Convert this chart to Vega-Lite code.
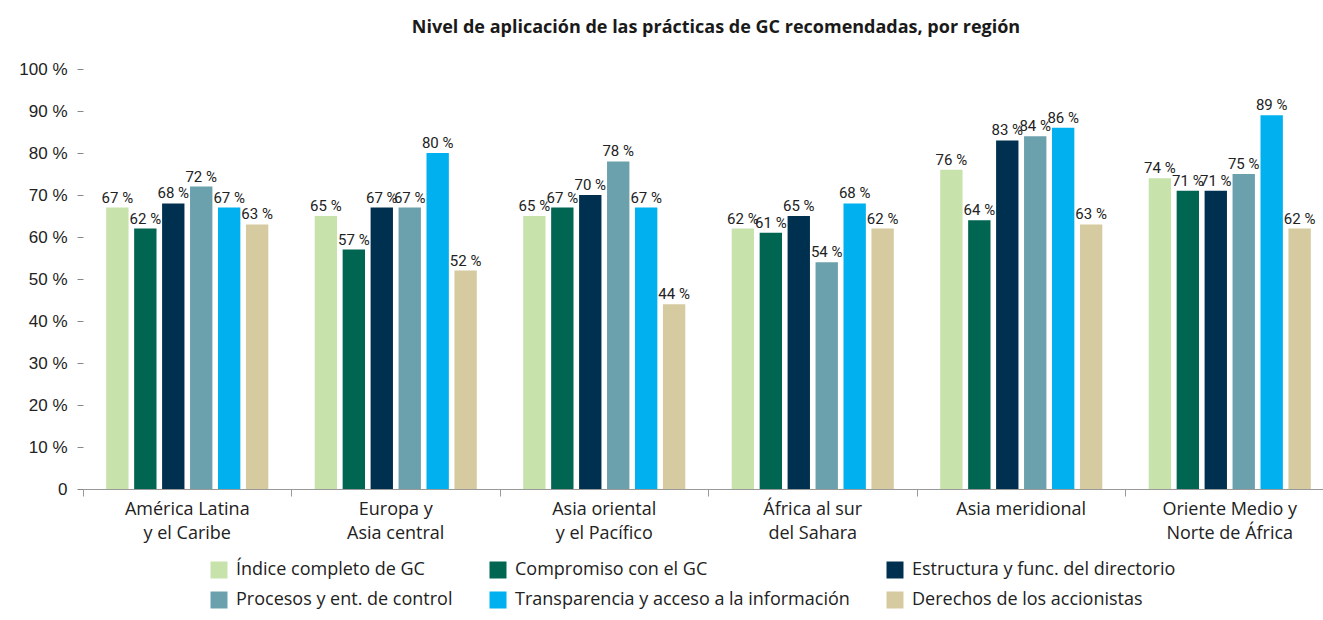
{
  "$schema": "https://vega.github.io/schema/vega-lite/v6.json",
  "width": 1240,
  "height": 420,
  "autosize": {"type": "none"},
  "padding": {"left": 83, "top": 69, "right": 0, "bottom": 131},
  "background": "white",
  "config": {
    "view": {"stroke": null},
    "locale": {
      "number": {"decimal": ",", "thousands": ".", "grouping": [3], "currency": ["", " %"]}
    }
  },
  "title": {
    "text": "Nivel de aplicación de las prácticas de GC recomendadas, por región",
    "font": "Open Sans",
    "fontSize": 18,
    "fontWeight": "bold",
    "color": "#1a1a1a",
    "anchor": "middle",
    "dx": 13,
    "offset": 23
  },
  "data": {
    "values": [
      {"region": "América Latina y el Caribe", "series": "Índice completo de GC", "value": 67},
      {"region": "América Latina y el Caribe", "series": "Compromiso con el GC", "value": 62},
      {"region": "América Latina y el Caribe", "series": "Estructura y func. del directorio", "value": 68},
      {"region": "América Latina y el Caribe", "series": "Procesos y ent. de control", "value": 72},
      {"region": "América Latina y el Caribe", "series": "Transparencia y acceso a la información", "value": 67},
      {"region": "América Latina y el Caribe", "series": "Derechos de los accionistas", "value": 63},
      {"region": "Europa y Asia central", "series": "Índice completo de GC", "value": 65},
      {"region": "Europa y Asia central", "series": "Compromiso con el GC", "value": 57},
      {"region": "Europa y Asia central", "series": "Estructura y func. del directorio", "value": 67},
      {"region": "Europa y Asia central", "series": "Procesos y ent. de control", "value": 67},
      {"region": "Europa y Asia central", "series": "Transparencia y acceso a la información", "value": 80},
      {"region": "Europa y Asia central", "series": "Derechos de los accionistas", "value": 52},
      {"region": "Asia oriental y el Pacífico", "series": "Índice completo de GC", "value": 65},
      {"region": "Asia oriental y el Pacífico", "series": "Compromiso con el GC", "value": 67},
      {"region": "Asia oriental y el Pacífico", "series": "Estructura y func. del directorio", "value": 70},
      {"region": "Asia oriental y el Pacífico", "series": "Procesos y ent. de control", "value": 78},
      {"region": "Asia oriental y el Pacífico", "series": "Transparencia y acceso a la información", "value": 67},
      {"region": "Asia oriental y el Pacífico", "series": "Derechos de los accionistas", "value": 44},
      {"region": "África al sur del Sahara", "series": "Índice completo de GC", "value": 62},
      {"region": "África al sur del Sahara", "series": "Compromiso con el GC", "value": 61},
      {"region": "África al sur del Sahara", "series": "Estructura y func. del directorio", "value": 65},
      {"region": "África al sur del Sahara", "series": "Procesos y ent. de control", "value": 54},
      {"region": "África al sur del Sahara", "series": "Transparencia y acceso a la información", "value": 68},
      {"region": "África al sur del Sahara", "series": "Derechos de los accionistas", "value": 62},
      {"region": "Asia meridional", "series": "Índice completo de GC", "value": 76},
      {"region": "Asia meridional", "series": "Compromiso con el GC", "value": 64},
      {"region": "Asia meridional", "series": "Estructura y func. del directorio", "value": 83},
      {"region": "Asia meridional", "series": "Procesos y ent. de control", "value": 84},
      {"region": "Asia meridional", "series": "Transparencia y acceso a la información", "value": 86},
      {"region": "Asia meridional", "series": "Derechos de los accionistas", "value": 63},
      {"region": "Oriente Medio y Norte de África", "series": "Índice completo de GC", "value": 74},
      {"region": "Oriente Medio y Norte de África", "series": "Compromiso con el GC", "value": 71},
      {"region": "Oriente Medio y Norte de África", "series": "Estructura y func. del directorio", "value": 71},
      {"region": "Oriente Medio y Norte de África", "series": "Procesos y ent. de control", "value": 75},
      {"region": "Oriente Medio y Norte de África", "series": "Transparencia y acceso a la información", "value": 89},
      {"region": "Oriente Medio y Norte de África", "series": "Derechos de los accionistas", "value": 62}
    ]
  },
  "encoding": {
    "x": {
      "field": "region",
      "type": "nominal",
      "sort": null,
      "title": null,
      "scale": {"paddingInner": 0, "paddingOuter": 0, "range": [0, 1251]},
      "axis": {
        "bandPosition": 0,
        "labelAngle": 0,
        "labelFont": "Open Sans",
        "labelFontSize": 18,
        "labelColor": "#222222",
        "labelLineHeight": 24,
        "labelPadding": 4,
        "labelBaseline": "top",
        "tickColor": "#999999",
        "tickSize": 7,
        "domainColor": "#999999",
        "labelExpr": "datum.label == 'América Latina y el Caribe' ? ['América Latina', 'y el Caribe'] : datum.label == 'Europa y Asia central' ? ['Europa y', 'Asia central'] : datum.label == 'Asia oriental y el Pacífico' ? ['Asia oriental', 'y el Pacífico'] : datum.label == 'África al sur del Sahara' ? ['África al sur', 'del Sahara'] : datum.label == 'Oriente Medio y Norte de África' ? ['Oriente Medio y', 'Norte de África'] : datum.label"
      }
    },
    "xOffset": {
      "field": "series",
      "type": "nominal",
      "sort": null,
      "scale": {"paddingInner": 0.2, "paddingOuter": 0.83}
    },
    "y": {
      "field": "value",
      "type": "quantitative",
      "title": null,
      "scale": {"domain": [0, 100]},
      "axis": {
        "values": [0, 10, 20, 30, 40, 50, 60, 70, 80, 90, 100],
        "format": "$d",
        "labelExpr": "datum.value == 0 ? '0' : datum.label",
        "labelFont": "Liberation Sans",
        "labelFontSize": 17,
        "labelColor": "#222222",
        "labelPadding": 10,
        "tickColor": "#888888",
        "tickSize": 6,
        "domain": false,
        "grid": false
      }
    }
  },
  "layer": [
    {
      "mark": {"type": "bar"},
      "encoding": {
        "color": {
          "field": "series",
          "type": "nominal",
          "scale": {
            "domain": ["Índice completo de GC", "Procesos y ent. de control", "Compromiso con el GC", "Transparencia y acceso a la información", "Estructura y func. del directorio", "Derechos de los accionistas"],
            "range": ["#c7e2ab", "#6aa1ac", "#006651", "#00b0ef", "#00304f", "#d6caa0"]
          },
          "legend": {
            "title": null,
            "orient": "none",
            "legendX": 127,
            "legendY": 492,
            "columns": 3,
            "symbolType": "square",
            "symbolSize": 289,
            "symbolStrokeWidth": 0,
            "labelFont": "Open Sans",
            "labelFontSize": 18,
            "labelColor": "#222222",
            "labelOffset": 8,
            "rowPadding": 12,
            "columnPadding": 36,
            "labelLimit": 500
          }
        }
      }
    },
    {
      "mark": {"type": "text", "baseline": "bottom", "dy": -2, "font": "Roboto", "fontSize": 15, "color": "#222222"},
      "encoding": {
        "text": {"field": "value", "type": "quantitative", "format": "$d"}
      }
    }
  ]
}
